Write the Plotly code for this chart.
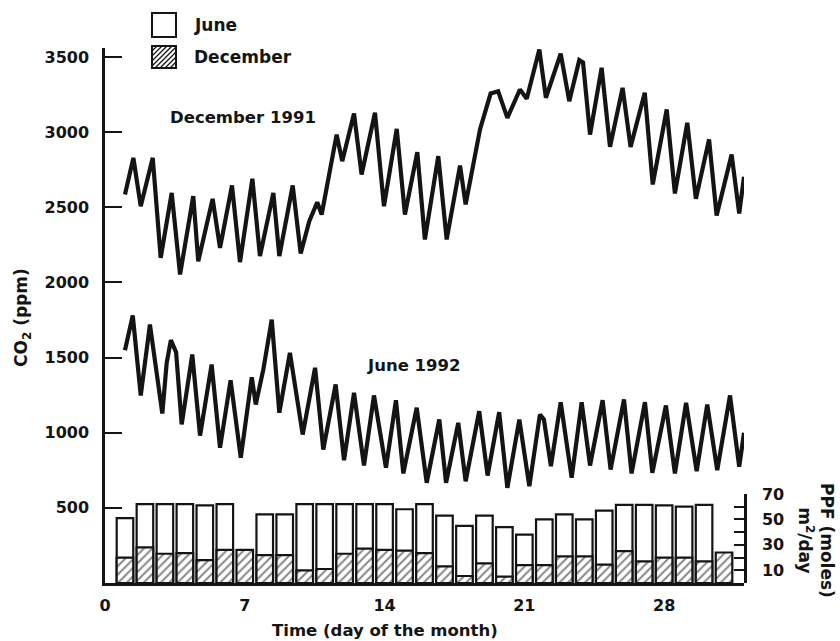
import plotly.graph_objects as go

# ---------------- data ----------------
days = list(range(1, 32))
june_ppf = [51, 62, 62, 62, 61, 62, None, 54, 54, 62, 62, 62, 62, 62, 58, 62, 53, 45,
            53, 44, 38, 50, 54, 50, 57, 61.5, 61.5, 61, 60, 61.5, None]
dec_ppf = [20, 28, 23, 23.5, 18, 26, 26, 22, 22, 10, 11, 23, 27, 26, 25.5, 23.5, 13, 5.5,
           15.5, 5, 14, 14, 21, 21, 14.5, 25, 17, 20, 20, 17, 24]

dec_t = [1.00, 1.42, 1.79, 2.39, 2.79, 3.34, 3.76, 4.42, 4.67, 5.39, 5.76, 6.36, 6.76, 7.38,
         7.76, 8.43, 8.73, 9.40, 9.80, 10.23, 10.63, 10.85, 11.60, 11.88, 12.47, 12.85, 13.52,
         13.97, 14.61, 15.02, 15.64, 16.02, 16.69, 17.11, 17.78, 18.06, 18.78, 19.31, 19.69,
         20.15, 20.78, 21.12, 21.75, 22.08, 22.82, 23.25, 23.75, 23.94, 24.29, 24.87, 25.29,
         25.92, 26.32, 27.03, 27.43, 28.13, 28.54, 29.16, 29.59, 30.25, 30.63, 31.38, 31.76, 32.0]
dec_co2 = [2585, 2829, 2507, 2829, 2164, 2596, 2053, 2574, 2141, 2556, 2230, 2645, 2135, 2690,
           2175, 2596, 2175, 2645, 2192, 2407, 2534, 2452, 2984, 2807, 3124, 2718, 3129,
           2507, 3022, 2452, 2867, 2286, 2840, 2286, 2778, 2519, 3018, 3257, 3272,
           3095, 3284, 3222, 3550, 3229, 3523, 3206, 3479, 3463, 2984, 3428, 2902,
           3295, 2902, 3262, 2652, 3151, 2592, 3062, 2556, 2951, 2445, 2851, 2459, 2703]

jun_t = [1.00, 1.39, 1.79, 2.25, 2.87, 3.09, 3.30, 3.56, 3.84, 4.37, 4.76, 5.34, 5.76, 6.29,
         6.80, 7.35, 7.55, 7.93, 8.35, 8.73, 9.26, 9.90, 10.52, 10.93, 11.55, 11.97, 12.47,
         12.97, 13.47, 14.07, 14.57, 14.94, 15.61, 16.11, 16.74, 17.08, 17.69, 18.06, 18.74,
         19.16, 19.74, 20.15, 20.75, 21.25, 21.78, 21.98, 22.33, 22.82, 23.37, 23.87, 24.29,
         24.92, 25.32, 25.99, 26.37, 27.04, 27.41, 28.09, 28.54, 29.10, 29.63, 30.16, 30.66,
         31.30, 31.76, 32.0]
jun_co2 = [1549, 1780, 1248, 1720, 1128, 1465, 1616, 1536, 1055, 1520, 981, 1454, 900, 1349,
           833, 1369, 1188, 1421, 1753, 1133, 1532, 988, 1432, 888, 1321, 817, 1266,
           782, 1248, 767, 1216, 729, 1166, 667, 1088, 667, 1066, 677, 1143,
           715, 1137, 633, 1088, 644, 1121, 1088, 777, 1203, 700, 1203, 782,
           1216, 755, 1221, 729, 1203, 733, 1181, 729, 1199, 744, 1188, 751,
           1248, 773, 999]

x_ticks = [0, 7, 14, 21, 28]
co2_ticks = [500, 1000, 1500, 2000, 2500, 3000, 3500]
ppf_ticks = [10, 30, 50, 70]

# ---------------- style ----------------
INK = "#141414"
FONT = "DejaVu Sans"
W, H = 840, 641
L, R, T, B = 105, 96, 48, 58
PW, PH = W - L - R, H - T - B


def px(xp):
    return (xp - L) / PW


def py(yp):
    return (H - B - yp) / PH


fig = go.Figure()

fig.add_trace(go.Bar(x=days, y=june_ppf, yaxis="y2", width=0.83, name="June",
                     marker=dict(color="white", line=dict(color=INK, width=2.2))))
fig.add_trace(go.Bar(x=days, y=dec_ppf, yaxis="y2", width=0.83, name="December",
                     marker=dict(color="white", line=dict(color=INK, width=2.2),
                                 pattern=dict(shape="/", fgcolor=INK, bgcolor="white",
                                              size=6, solidity=0.35))))

fig.add_trace(go.Scatter(x=dec_t, y=dec_co2, mode="lines", name="December 1991",
                         line=dict(color=INK, width=4.2)))
fig.add_trace(go.Scatter(x=jun_t, y=jun_co2, mode="lines", name="June 1992",
                         line=dict(color=INK, width=4.2)))

bold = dict(family=FONT, size=16, color=INK, weight="bold")

# legend drawn by hand (boxes + text)
shapes = []
shapes.append(dict(type="rect", xref="paper", yref="paper", x0=px(152), x1=px(176),
                   y0=py(37), y1=py(13), line=dict(color=INK, width=2), fillcolor="white"))
bx0, by0, bx1, by1 = 152, 46, 176, 68
shapes.append(dict(type="rect", xref="paper", yref="paper", x0=px(bx0), x1=px(bx1),
                   y0=py(by1), y1=py(by0), line=dict(color=INK, width=2), fillcolor="white"))
step = 5
c = bx0 + by0 + step
while c < bx1 + by1:
    xa = max(bx0, c - by1)
    xb = min(bx1, c - by0)
    if xb > xa:
        shapes.append(dict(type="line", xref="paper", yref="paper",
                           x0=px(xa), y0=py(c - xa), x1=px(xb), y1=py(c - xb),
                           line=dict(color=INK, width=1.2)))
    c += step

annotations = [
    dict(text="June", x=px(192), y=py(25), xref="paper", yref="paper", xanchor="left",
         yanchor="middle", showarrow=False, font=dict(bold, size=17)),
    dict(text="December", x=px(192), y=py(57), xref="paper", yref="paper", xanchor="left",
         yanchor="middle", showarrow=False, font=dict(bold, size=17)),
    dict(text="December 1991", x=px(168), y=py(117), xref="paper", yref="paper",
         xanchor="left", yanchor="middle", showarrow=False, font=dict(bold, size=16.5)),
    dict(text="June 1992", x=px(365), y=py(365), xref="paper", yref="paper",
         xanchor="left", yanchor="middle", showarrow=False, font=dict(bold, size=16.5)),
    dict(text="Time (day of the month)", x=px(385), y=py(630), xref="paper", yref="paper",
         xanchor="center", yanchor="middle", showarrow=False, font=dict(bold, size=16.5)),
    dict(text="CO<sub>2</sub> (ppm)", x=px(22), y=py(318), xref="paper", yref="paper",
         xanchor="center", yanchor="middle", textangle=-90, showarrow=False,
         font=dict(bold, size=17)),
    dict(text="PPF (moles)<br>m<sup>2</sup>/day", x=px(816), y=py(540), xref="paper",
         yref="paper", xanchor="center", yanchor="middle", textangle=90, showarrow=False,
         font=dict(bold, size=17)),
]

fig.update_layout(
    width=W, height=H, autosize=False,
    margin=dict(l=L, r=R, t=T, b=B, pad=0),
    paper_bgcolor="white", plot_bgcolor="rgba(0,0,0,0)",
    showlegend=False, barmode="overlay",
    font=bold,
    shapes=shapes, annotations=annotations,
    xaxis=dict(range=[0, 32], domain=[0, 1], anchor="y", showline=True, linecolor=INK,
               linewidth=2.5, ticks="", tickvals=x_ticks, showgrid=False, zeroline=False,
               tickfont=dict(bold, size=16), ticklabelstandoff=6),
    yaxis=dict(range=[0, 3560], domain=[0, 1], anchor="x", showline=True, linecolor=INK,
               linewidth=2.5, ticks="inside", ticklen=17, tickwidth=2, tickcolor=INK,
               tickvals=co2_ticks, showgrid=False, zeroline=False,
               tickfont=dict(bold, size=16), ticklabelstandoff=10),
    yaxis2=dict(range=[0, 70], domain=[0, 89 / PH], anchor="x", side="right",
                showline=True, linecolor=INK, linewidth=2.5, ticks="inside", ticklen=10,
                tickwidth=2, tickcolor=INK, tickvals=ppf_ticks,
                minor=dict(ticks="inside", ticklen=10, tickwidth=2, tickcolor=INK,
                           tick0=0, dtick=10),
                showgrid=False, zeroline=False, tickfont=dict(bold, size=16),
                ticklabelstandoff=12),
)

fig.write_html("out.html")
